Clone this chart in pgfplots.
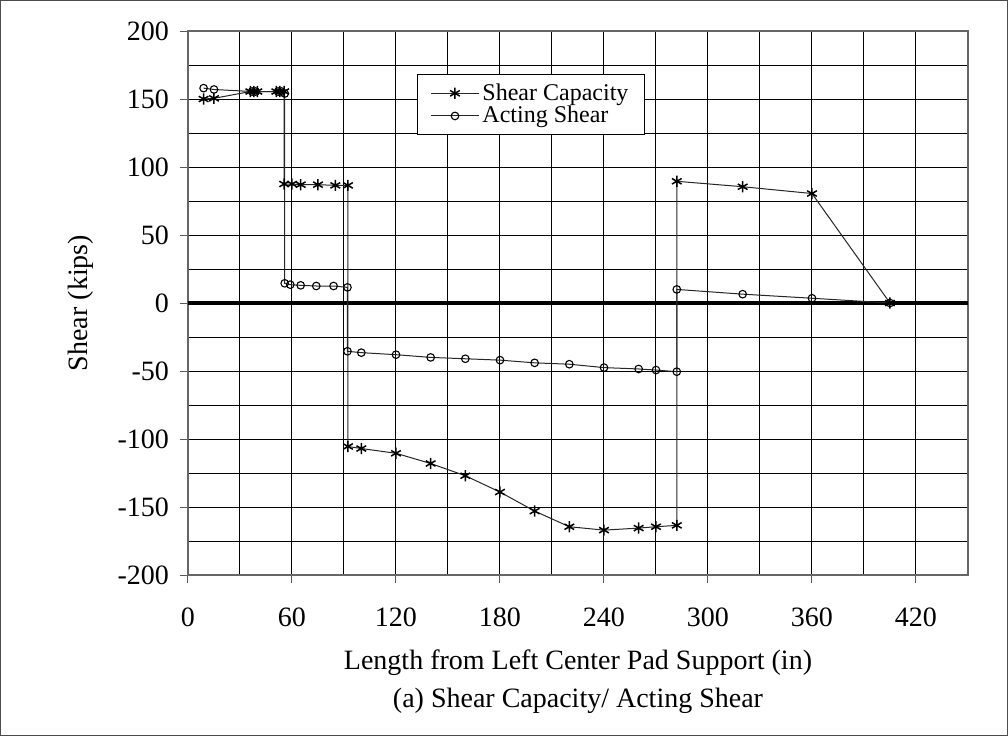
\documentclass[border=0pt]{standalone}
\usepackage{fontspec}
\setmainfont{Liberation Serif}
\usepackage{pgfplots}
\pgfplotsset{compat=1.18}

\newcommand{\chartfont}{\fontsize{14}{16.5}\selectfont}

\begin{document}
\begin{tikzpicture}
\begin{axis}[
  scale only axis,
  width=390pt, height=272pt,
  xmin=0, xmax=450, ymin=-200, ymax=200,
  xtick={0,60,...,420}, ytick={-200,-150,...,200},
  minor x tick num=1, minor y tick num=1,
  grid=both,
  major grid style={black, line width=0.5pt},
  minor grid style={black, line width=0.5pt},
  axis line style={gray!80!black, line width=0.6pt},
  tick align=outside, major tick length=4pt, minor tick length=0pt,
  tick style={gray!70!black, line width=0.5pt},
  tick pos=left,
  /pgf/number format/assume math mode=true,
  tick label style={font=\chartfont},
  yticklabel style={xshift=-2pt},
  xticklabel style={yshift=-9pt},
  xlabel={Length from Left Center Pad Support (in)\\[2.5pt](a) Shear Capacity/ Acting Shear},
  xlabel style={font=\chartfont, align=center, yshift=-4.5pt},
  ylabel={Shear (kips)},
  ylabel style={font=\chartfont, yshift=5pt},
  legend style={font=\fontsize{12}{14}\selectfont, at={(0.2936,0.921)}, anchor=north west,
    draw=black, line width=0.5pt, row sep=0.5pt, inner xsep=6.5pt, inner ysep=4pt,
    nodes={inner xsep=1.5pt, inner ysep=0.5pt}},
  legend cell align=left,
  legend image code/.code={
    \draw[#1, mark repeat=2, mark phase=2] plot coordinates {(0pt,0pt) (12pt,0pt) (24pt,0pt)};
  },
]
\addplot[forget plot, black, line width=1.6pt] coordinates {(0,0) (450,0)};

\addplot[black!85, line width=0.5pt, mark=asterisk, mark size=2.8pt,
  mark options={black, line width=0.75pt}] coordinates {
  (9,150) (15,150.5) (36,155.5) (38,155.5) (40,155.5) (51,155.5) (53,155.5) (55.5,155.5)
  (55.5,87.5) (60,87.5) (65,87) (75,87) (85,86.5) (92.3,86.5)
  (92.3,-105.5) (100,-107) (120,-110.5) (140,-118) (160,-127) (180,-139)
  (200,-153) (220,-164.5) (240,-167) (260,-165.5) (270,-164.5) (282,-163.5)
  (282,89.5) (320,85.5) (360,80.5) (405,0)
};
\addlegendentry{Shear Capacity}

\addplot[black!85, line width=0.5pt, mark=o, mark size=1.9pt,
  mark options={black, line width=0.55pt}] coordinates {
  (9,158) (15,157) (37,155.5) (39,155.5) (52,155.5) (54,155.5) (55.8,154)
  (55.8,14.5) (59,13.5) (65,13) (74,12.5) (84,12.5) (92,11.5)
  (92,-35.5) (100,-36.5) (120,-38) (140,-40) (160,-41) (180,-42)
  (200,-44) (220,-45) (240,-47.5) (260,-48.5) (270,-49.3) (282,-50.5)
  (282,10) (320,6.5) (360,3.5) (405,0)
};
\addlegendentry{Acting Shear}
\end{axis}
\draw[gray!60!black, line width=0.6pt] (-93.7pt,-80.2pt) rectangle (409.7pt,287.2pt);
\end{tikzpicture}
\end{document}
